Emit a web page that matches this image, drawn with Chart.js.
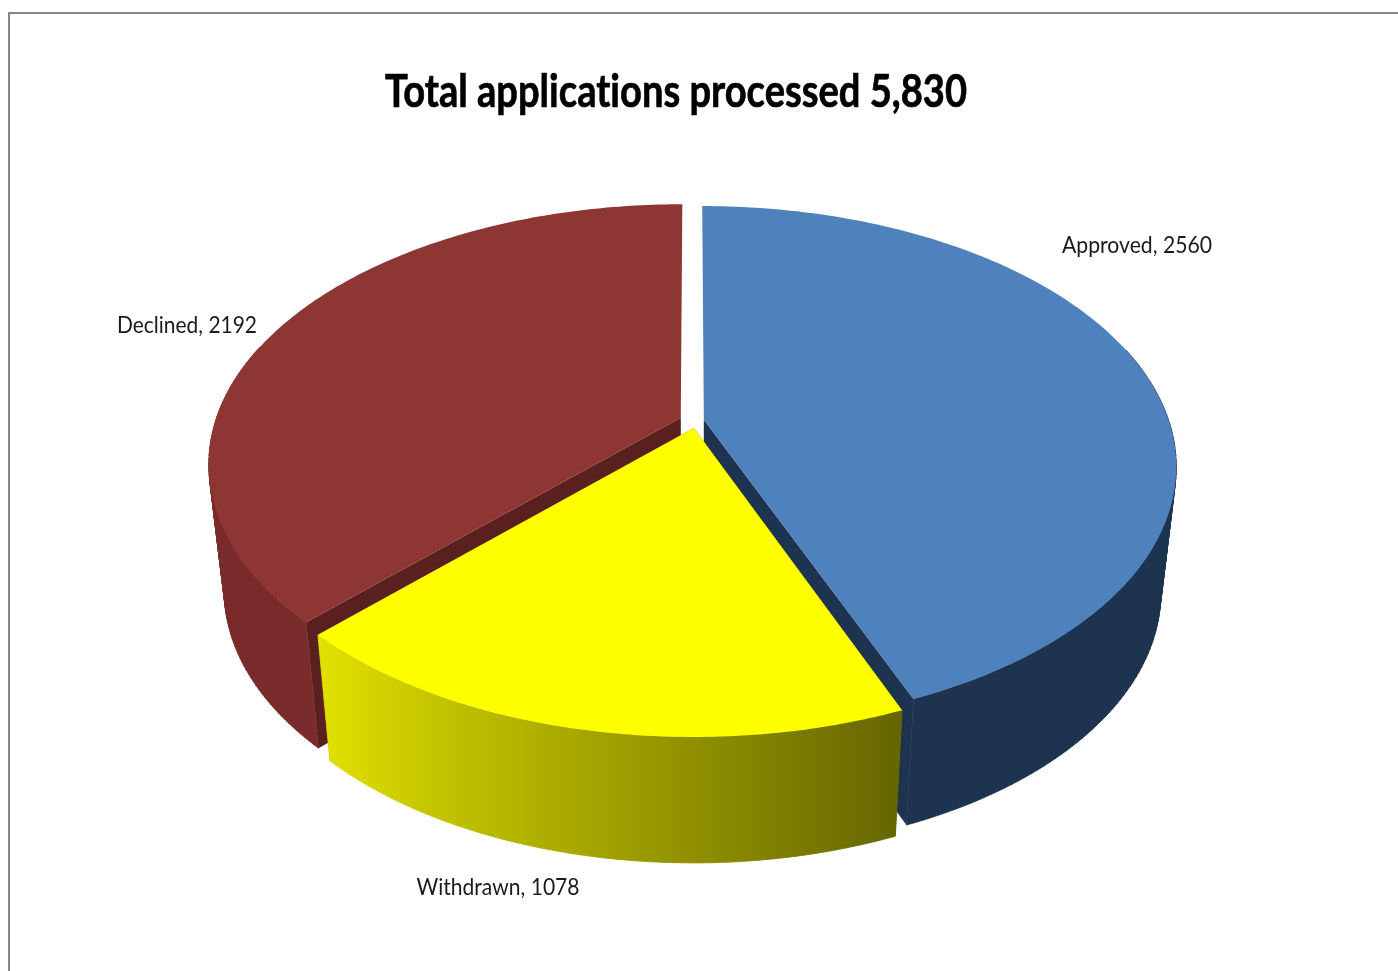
<!DOCTYPE html>
<html>
<head>
<meta charset="utf-8">
<title>Total applications processed</title>
<script src="https://cdn.jsdelivr.net/npm/chart.js@4"></script>
<style>
   html, body { margin: 0; padding: 0; background: #fff; overflow: hidden; width: 1398px; height: 971px; }
   #frame { position: absolute; left: 8px; top: 12px; width: 2000px; height: 2000px; border: 2px solid #858585; }
   #myChart { position: absolute; left: 0; top: 0; }
</style>
</head>
<body>
<div id="frame"></div>
<canvas id="myChart" width="1398" height="971"></canvas>
<script>
const chartTitle = 'Total applications processed 5,830';
const labels = ['Approved', 'Withdrawn', 'Declined'];
const values = [2560, 1078, 2192];
const topColors = ['#4f81bd', '#ffff00', '#8e3634'];
const cutColors = ['#1d334f', '#5a5a00', '#5a1f1f'];
const labelCenters = [[1137, 245], [498, 887], [187, 325]];
const labelWidths = [150, 163, 140];
const sliceNudge = [[1, -2], [4, -1], [-1, -3]];

// tilted disc, fitted to the picture
const view = { cx: 692, cy: 423, a: 465, b: 252, p: 0.177, depth: 126, shrink: 0.968 };

function project(u, v, nudge) {
   const w = 1 - view.p * v;
   return [view.cx + view.a * u / w + nudge[0], view.cy + view.b * v / w + nudge[1]];
}

function below(pt) {
   return [view.cx + view.shrink * (pt[0] - view.cx), pt[1] + view.depth];
}

function fillShape(ctx, pts, fill) {
   ctx.beginPath();
   pts.forEach((p, i) => i ? ctx.lineTo(p[0], p[1]) : ctx.moveTo(p[0], p[1]));
   ctx.closePath();
   ctx.fillStyle = fill;
   ctx.fill();
}

// the rim swept down; all quads wound the same way so they merge without seams
function fillWall(ctx, side, fill) {
   ctx.beginPath();
   for (let k = 0; k < side.length - 1; k++) {
      let quad = [side[k], side[k + 1], below(side[k + 1]), below(side[k])];
      let area = 0;
      quad.forEach((p, j) => {
         const q = quad[(j + 1) % 4];
         area += p[0] * q[1] - q[0] * p[1];
      });
      if (area < 0) quad = quad.reverse();
      quad.forEach((p, j) => j ? ctx.lineTo(p[0], p[1]) : ctx.moveTo(p[0], p[1]));
      ctx.closePath();
   }
   ctx.fillStyle = fill;
   ctx.fill();
   ctx.strokeStyle = fill;
   ctx.lineWidth = 0.8;
   ctx.stroke();
}

function wallFill(ctx, i) {
   if (i === 0) return '#1d334f';
   if (i === 2) return '#7a2b2b';
   const g = ctx.createLinearGradient(318, 0, 900, 0);
   g.addColorStop(0, '#e2e200');
   g.addColorStop(0.2, '#c4c400');
   g.addColorStop(1, '#666600');
   return g;
}

function stretchedText(ctx, text, x, y, width, bolder) {
   const scale = width / ctx.measureText(text).width;
   ctx.save();
   ctx.translate(x, y);
   ctx.scale(scale, 1);
   ctx.fillText(text, 0, 0);
   if (bolder) {
      ctx.lineWidth = bolder;
      ctx.strokeText(text, 0, 0);
   }
   ctx.restore();
}

const disc3d = {
   id: 'disc3d',
   beforeDatasetsDraw(chart) {
      const ctx = chart.ctx;
      const slices = chart.getDatasetMeta(0).data.map((el, i) => {
         const e = el.options.offset / el.outerRadius;
         const mid = (el.startAngle + el.endAngle) / 2;
         const ox = e * Math.cos(mid), oy = e * Math.sin(mid);
         const rim = [], side = [];
         const n = 160;
         for (let k = 0; k <= n; k++) {
            const t = el.startAngle + (el.endAngle - el.startAngle) * k / n;
            const p = project(ox + Math.cos(t), oy + Math.sin(t), sliceNudge[i]);
            rim.push(p);
            if (Math.sin(t) > -0.3) side.push(p);
         }
         return { i, mid, rim, side, start: el.startAngle, end: el.endAngle, apex: project(ox, oy, sliceNudge[i]), color: el.options.backgroundColor };
      });

      // back slices first, the near one covers them
      slices.sort((s, t) => Math.sin(s.mid) - Math.sin(t.mid));
      slices.forEach(s => {
         [[s.start, s.rim[0]], [s.end, s.rim[s.rim.length - 1]]].forEach(edge => {
            if (Math.sin(edge[0]) > 0) {
               fillShape(ctx, [s.apex, edge[1], below(edge[1]), below(s.apex)], cutColors[s.i]);
            }
         });
         fillWall(ctx, s.side, wallFill(ctx, s.i));
         fillShape(ctx, [s.apex].concat(s.rim), s.color);
      });
      return false;
   },
   afterDraw(chart) {
      const ctx = chart.ctx;
      ctx.save();
      ctx.textRendering = 'optimizeSpeed';
      ctx.textAlign = 'center';
      ctx.textBaseline = 'middle';
      ctx.fillStyle = '#000';
      ctx.strokeStyle = '#000';
      ctx.font = "bold 46px Lato";
      stretchedText(ctx, chartTitle, 676, 92, 582, 0.7);
      ctx.fillStyle = '#1a1a1a';
      ctx.font = "24px Lato";
      labels.forEach((name, i) => {
         stretchedText(ctx, name + ', ' + values[i], labelCenters[i][0], labelCenters[i][1], labelWidths[i]);
      });
      ctx.restore();
   }
};

new Chart(document.getElementById('myChart').getContext('2d'), {
   type: 'pie',
   data: {
      labels,
      datasets: [{
         data: values,
         backgroundColor: topColors,
         borderWidth: 0,
         offset: 10
      }]
   },
   options: {
      responsive: false,
      animation: false,
      layout: { padding: { top: 120 } },
      plugins: {
         legend: { display: false },
         tooltip: { enabled: false }
      }
   },
   plugins: [disc3d]
});
</script>
</body>
</html>
